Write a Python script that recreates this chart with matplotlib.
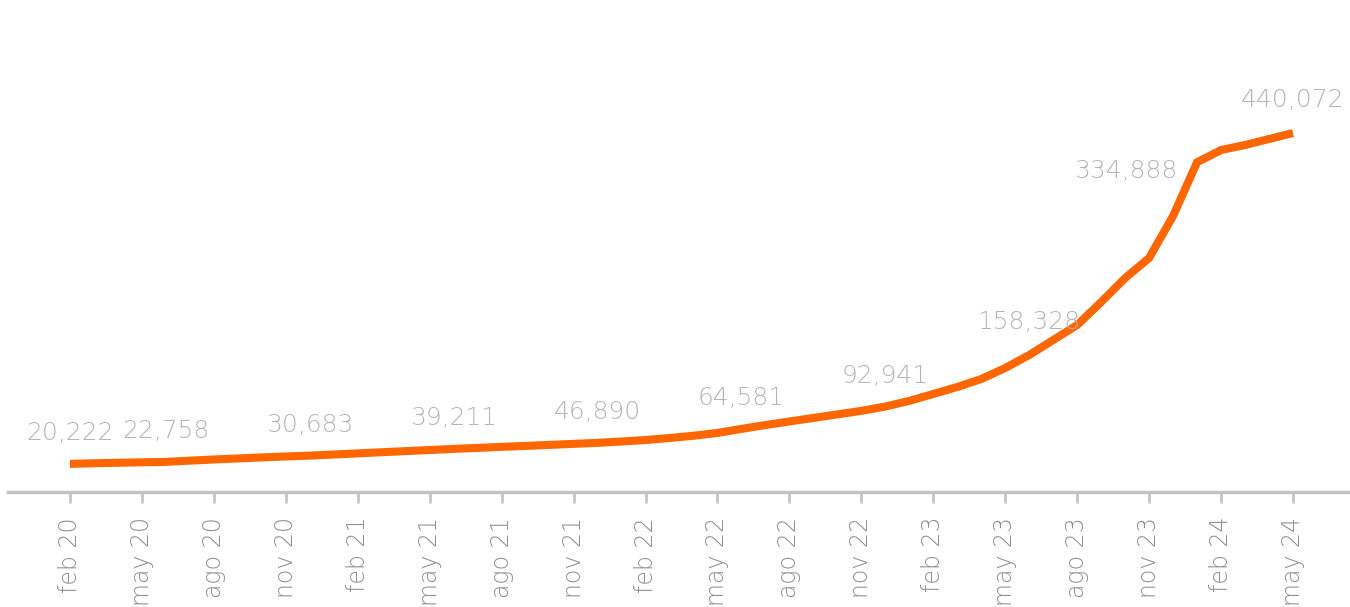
import matplotlib
matplotlib.use("Agg")
import matplotlib.pyplot as plt
from matplotlib import font_manager
import numpy as np

# ---- data ----
months = ["feb 20", "mar 20", "abr 20", "may 20", "jun 20", "jul 20", "ago 20", "sep 20", "oct 20", "nov 20", "dic 20",
          "ene 21", "feb 21", "mar 21", "abr 21", "may 21", "jun 21", "jul 21", "ago 21", "sep 21", "oct 21", "nov 21", "dic 21",
          "ene 22", "feb 22", "mar 22", "abr 22", "may 22", "jun 22", "jul 22", "ago 22", "sep 22", "oct 22", "nov 22", "dic 22",
          "ene 23", "feb 23", "mar 23", "abr 23", "may 23", "jun 23", "jul 23", "ago 23", "sep 23", "oct 23", "nov 23", "dic 23",
          "ene 24", "feb 24", "mar 24", "abr 24", "may 24"]
values = [20222, 21000, 21600, 22200, 22758, 24300, 25800, 27100, 28400, 29600, 30683,
          32100, 33500, 35000, 36400, 37800, 39211, 40500, 41800, 43000, 44300, 45600, 46890,
          48600, 50500, 53000, 55900, 59500, 64581, 69500, 74000, 78500, 83000, 87500, 92941,
          100200, 108900, 117800, 127900, 141900, 158328, 177400, 196400, 225600, 256000, 281500, 334888,
          403000, 418500, 424900, 432500, 440072]
tick_labels = ["feb 20", "may 20", "ago 20", "nov 20", "feb 21", "may 21", "ago 21", "nov 21",
               "feb 22", "may 22", "ago 22", "nov 22", "feb 23", "may 23", "ago 23", "nov 23",
               "feb 24", "may 24"]
label_months = ["feb 20", "jun 20", "dic 20", "jun 21", "dic 21", "jun 22", "dic 22", "jun 23", "dic 23", "may 24"]
label_offsets = [(0, 22), (0, 22), (0, 22), (0, 22), (0, 22), (0, 22), (0, 22), (0, 24), (-34, 32), (0, 24)]

W, H = 1350, 607
fig = plt.figure(figsize=(W / 100, H / 100), dpi=100)
ax_left, ax_right, ax_bottom_px, ax_top_px = 8, 1350, 492, 20
ax = fig.add_axes([ax_left / W, (H - ax_bottom_px) / H, (ax_right - ax_left) / W, (ax_bottom_px - ax_top_px) / H])

x = np.arange(len(months))
ax.plot(x, values, color="#FF6600", lw=5.8, solid_capstyle="butt", solid_joinstyle="miter")

px_per_month = 23.98
ax.set_xlim(-(70 - ax_left) / px_per_month, 51 + (ax_right - 1293) / px_per_month)
ax.set_ylim(-(ax_bottom_px - 479.8) / 0.000788, (479.8 - ax_top_px) / 0.000788)

FONT = "DejaVu Sans"
WEIGHT = "light"

tick_pos = [months.index(t) for t in tick_labels]
ax.set_xticks(tick_pos)
ax.set_xticklabels(tick_labels, rotation=90, fontsize=17, color="#8f8f8f", family=FONT, fontweight=WEIGHT)
ax.tick_params(axis="x", length=8, width=2, color="#c4c4c4", pad=10)
ax.set_yticks([])

for s in ["top", "right", "left"]:
    ax.spines[s].set_visible(False)
ax.spines["bottom"].set_color("#c4c4c4")
ax.spines["bottom"].set_linewidth(2.5)

for m, off in zip(label_months, label_offsets):
    i = months.index(m)
    ax.annotate(f"{values[i]:,}", (i, values[i]), xytext=off, textcoords="offset points",
                ha="center", va="center", fontsize=18, color="#b5b5b5", family=FONT, fontweight=WEIGHT)

fig.savefig("out.png", dpi=100)
